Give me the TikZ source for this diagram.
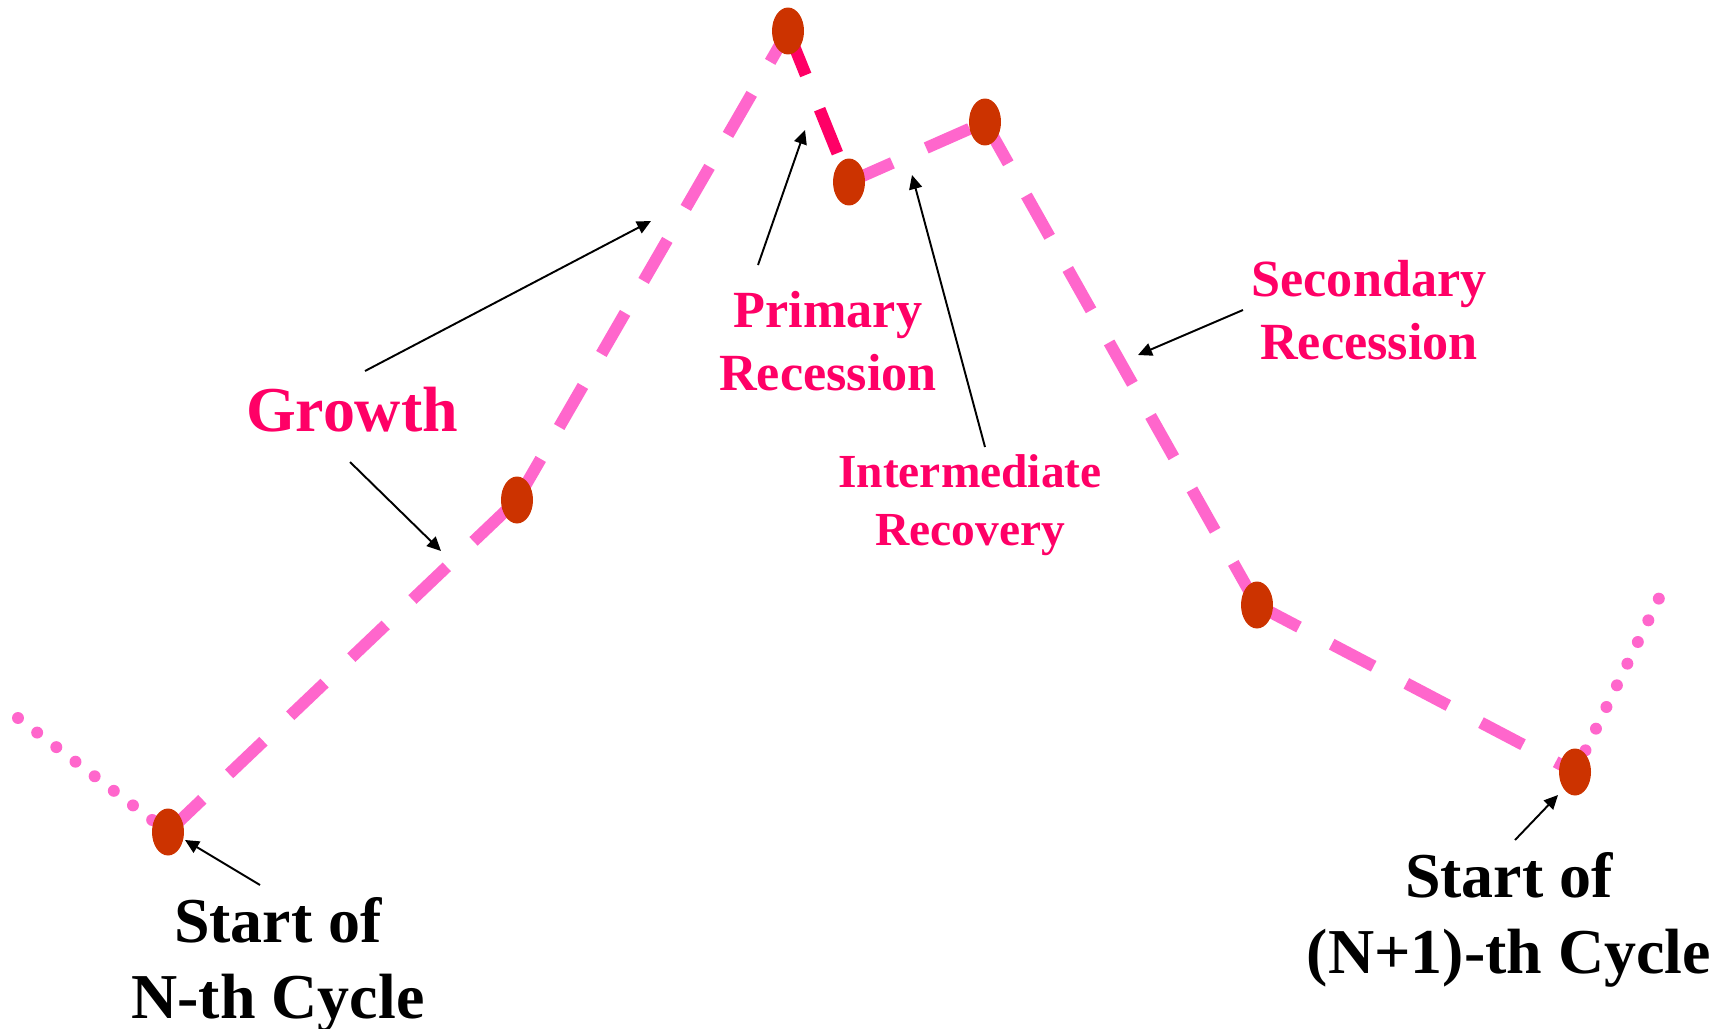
\documentclass[tikz,border=0pt]{standalone}
\usepackage{fontspec}
\setmainfont{Liberation Serif}
\usetikzlibrary{arrows.meta,shapes.geometric,backgrounds}

\definecolor{phasepink}{HTML}{FF66CC}
\definecolor{hotpink}{HTML}{FF0066}
\definecolor{turnred}{HTML}{CC3300}

\begin{document}
\begin{tikzpicture}[x=0.02cm, y=-0.02cm, >={Triangle[length=0.28cm, width=0.26cm]},
  turn/.style={ellipse, fill=turnred, inner sep=0pt, minimum width=0.64cm, minimum height=0.94cm},
  phase/.style={line width=6.8pt, phasepink, dash pattern=on 27pt off 21pt},
  lead/.style={line width=6.8pt, phasepink, line cap=round, dash pattern=on 0pt off 13.7pt},
  pointer/.style={->, line width=1.1pt, black},
  bigtext/.style={align=center, inner sep=0pt, font=\bfseries\fontsize{36.4pt}{43.2pt}\selectfont},
  phasetext/.style={align=center, inner sep=0pt, text=hotpink}]

  \useasboundingbox (0,0) rectangle (1727,1028);

  % --- 1. turning points ---
  \node[turn] (start)  at (168,832)  {};
  \node[turn] (mid)    at (517,500)  {};
  \node[turn] (peak)   at (788,31)   {};
  \node[turn] (trough) at (849,182)  {};
  \node[turn] (rebound) at (985,122) {};
  \node[turn] (slow)   at (1257,605) {};
  \node[turn] (next)   at (1575,772) {};

  % loose ends of the dotted lines
  \coordinate (before) at (18,718);
  \coordinate (after)  at (1662,592);

  % --- 2. the cycle (behind the points) ---
  \begin{pgfonlayer}{background}
    \draw[lead] (before) -- (start.center);
    \draw[phase] (start.center) -- (mid.center);
    \draw[phase] (mid.center) -- (peak.center);
    \draw[phase, hotpink] (peak.center) -- (trough.center);
    \draw[phase] (trough.center) -- (rebound.center);
    \draw[phase] (rebound.center) -- (slow.center);
    \draw[phase] (slow.center) -- (next.center);
    \draw[lead] (next.center) -- (after);
  \end{pgfonlayer}

  % --- 3. labels ---
  \node[phasetext, font=\bfseries\fontsize{36.4pt}{43.2pt}\selectfont] (growth) at (352,410) {Growth};
  \node[phasetext, font=\bfseries\fontsize{29.7pt}{36.2pt}\selectfont] (primary) at (828,341) {Primary\\Recession};
  \node[phasetext, font=\bfseries\fontsize{27pt}{33pt}\selectfont] (interm) at (970,505) {Intermediate\\Recovery};
  \node[phasetext, font=\bfseries\fontsize{29.7pt}{36pt}\selectfont] (second) at (1369,310) {Secondary\\Recession};
  \node[bigtext] (startN) at (278,965) {Start of\\N-th Cycle};
  \node[bigtext] (startM) at (1509,920) {Start of\\(N+1)-th Cycle};

  % --- 4. pointers ---
  \coordinate (grA) at (365,371);   \coordinate (grAtip) at (651,221);
  \coordinate (grB) at (350,462);   \coordinate (grBtip) at (441,551);
  \coordinate (prA) at (758,265);   \coordinate (prAtip) at (805,130);
  \coordinate (inA) at (985,447);   \coordinate (inAtip) at (912,175);
  \coordinate (seA) at (1243,310);  \coordinate (seAtip) at (1138,355);
  \coordinate (snA) at (260,885);   \coordinate (snAtip) at (185,840);
  \coordinate (smA) at (1515,840);  \coordinate (smAtip) at (1558,795);

  \draw[pointer] (grA) -- (grAtip);
  \draw[pointer] (grB) -- (grBtip);
  \draw[pointer] (prA) -- (prAtip);
  \draw[pointer] (inA) -- (inAtip);
  \draw[pointer] (seA) -- (seAtip);
  \draw[pointer] (snA) -- (snAtip);
  \draw[pointer] (smA) -- (smAtip);

\end{tikzpicture}
\end{document}
